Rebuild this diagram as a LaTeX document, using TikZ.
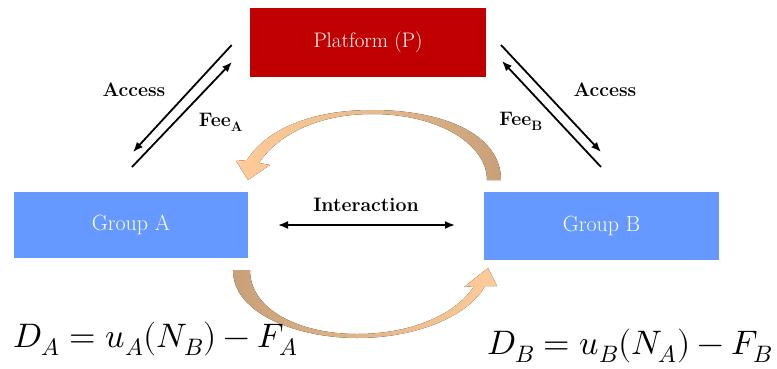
\documentclass[tikz,border=0pt]{standalone}
\usepackage{fontspec}
\usepackage{unicode-math}
\setmathfont{Latin Modern Math}
\usetikzlibrary{arrows.meta}
\definecolor{platred}{RGB}{192,0,0}
\definecolor{groupblue}{RGB}{102,153,255}
\definecolor{tan}{RGB}{200,160,120}
\definecolor{peach}{RGB}{255,204,153}
\begin{document}
\begin{tikzpicture}[x=1pt,y=-1pt,
  box/.style={rectangle, inner sep=0pt, text=white,
    font=\fontsize{22}{26}\selectfont},
  lbl/.style={inner sep=0pt, font=\bfseries\fontsize{19.5}{23}\selectfont},
  eqn/.style={inner sep=0pt, font=\fontsize{34}{40}\selectfont},
  link/.style={line width=1.8pt, -{Latex[length=10pt,width=8pt]}},
  twoway/.style={line width=1.8pt, {Latex[length=10pt,width=8pt]}-{Latex[length=10pt,width=8pt]}}]
\useasboundingbox (0,0) rectangle (777,368);

% platform and the two user groups
\node[box, fill=platred, minimum width=236pt, minimum height=69pt,
      font=\fontsize{21}{25}\selectfont] (P) at (368,42.5) {Platform (P)};
\node[box, fill=groupblue, minimum width=234pt, minimum height=66pt] (A) at (131,225) {Group A};
\node[box, fill=groupblue, minimum width=235pt, minimum height=68pt] (B) at (601.5,226) {Group B};

% end points of the access / fee arrows
\coordinate (aAs) at (231.7,45);
\coordinate (aAe) at (133,152);
\coordinate (fAs) at (132,167);
\coordinate (fAe) at (232,62);
\coordinate (aBs) at (501,45);
\coordinate (aBe) at (601,152);
\coordinate (fBs) at (601,167);
\coordinate (fBe) at (502,61);
\coordinate (iA) at (278,225);
\coordinate (iB) at (455,225);

\draw[link] (aAs) -- (aAe);
\draw[link] (fAs) -- (fAe);
\draw[link] (aBs) -- (aBe);
\draw[link] (fBs) -- (fBe);
\draw[twoway] (iA) -- (iB);

\node[lbl] (accA) at (134,90) {Access};
\node[lbl] (feeA) at (221,122) {Fee\textsubscript{A}};
\node[lbl] (accB) at (605,90) {Access};
\node[lbl] (feeB) at (521,121) {Fee\textsubscript{B}};
\node[lbl] (inter) at (366,205) {Interaction};

% curved feedback arrow over the top, B towards A
\fill[left color=peach, right color=tan, middle color=peach!60!tan]
  (501,180) .. controls (501,135) and (445,110) .. (372,110)
  .. controls (310,110) and (266,130) .. (247,160)
  -- (236,161) -- (248,180) -- (270,165) -- (259,163)
  .. controls (276,137) and (315,114) .. (372,114)
  .. controls (440,114) and (487,145) .. (487,180) -- cycle;

% curved feedback arrow underneath, A towards B
\fill[left color=tan, right color=peach, middle color=tan!50!peach]
  (233,270) .. controls (233,315) and (300,338) .. (357,338)
  .. controls (420,338) and (470,314) .. (485,286)
  -- (497,286) -- (488,268) -- (464,287) -- (474,286)
  .. controls (458,312) and (415,334) .. (357,334)
  .. controls (300,334) and (250,310) .. (250,270) -- cycle;

% demand equations
\node[eqn, anchor=base] (eqA) at (156,347) {$D_A = u_A(N_B) - F_A$};
\node[eqn, anchor=base] (eqB) at (630,354) {$D_B = u_B(N_A) - F_B$};
\end{tikzpicture}
\end{document}
